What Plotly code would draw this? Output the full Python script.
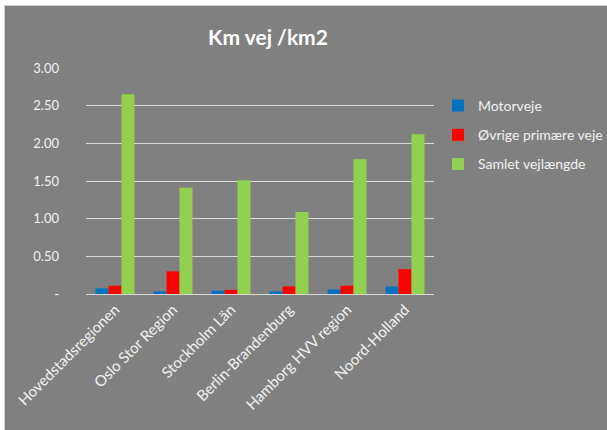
import plotly.graph_objects as go

regions = ["Hovedstadsregionen", "Oslo Stor Region", "Stockholm Län",
           "Berlin-Brandenburg", "Hamborg HVV region", "Noord-Holland"]
motorveje = [0.075, 0.035, 0.045, 0.035, 0.06, 0.10]
oevrige = [0.11, 0.30, 0.055, 0.10, 0.11, 0.33]
samlet = [2.65, 1.41, 1.51, 1.09, 1.79, 2.12]

series_names = ["Motorveje", "Øvrige primære veje", "Samlet vejlængde"]
series_colors = ["#0070c0", "#ff0000", "#92d050"]
series_values = [motorveje, oevrige, samlet]

ytick_vals = [0, 0.5, 1.0, 1.5, 2.0, 2.5, 3.0]
ytick_text = ["-", "0.50", "1.00", "1.50", "2.00", "2.50", "3.00"]

W, H = 607, 430
L, R, T, B = 86, 173, 68, 136
pw, ph = W - L - R, H - T - B

FONT = "Lato"
TXT = "#f2f2f2"
BG = "#808080"

fig = go.Figure()
for i, (name, col, vals) in enumerate(zip(series_names, series_colors, series_values)):
    fig.add_trace(go.Bar(x=regions, y=vals, name=name, marker_color=col,
                         marker_line_width=0, legendgroup=str(i)))

def px_x(p):
    return (p - L) / pw

def px_y(p):
    return (H - B - p) / ph

shapes = [
    dict(type="rect", xref="paper", yref="paper", x0=px_x(0), x1=px_x(W),
         y0=px_y(5), y1=px_y(0), fillcolor="white", line_width=0, layer="below"),
    dict(type="rect", xref="paper", yref="paper", x0=px_x(0), x1=px_x(4),
         y0=px_y(H), y1=px_y(0), fillcolor="white", line_width=0, layer="below"),
    dict(type="line", xref="paper", yref="paper", x0=px_x(4.5), x1=px_x(W),
         y0=px_y(5.5), y1=px_y(5.5), line=dict(color="#d0d0d0", width=1)),
    dict(type="line", xref="paper", yref="paper", x0=px_x(4.5), x1=px_x(4.5),
         y0=px_y(5.5), y1=px_y(H), line=dict(color="#d0d0d0", width=1)),
]

fig.update_layout(
    width=W, height=H,
    margin=dict(l=L, r=R, t=T, b=B, autoexpand=False),
    paper_bgcolor=BG, plot_bgcolor=BG,
    barmode="group", bargap=0.33, bargroupgap=0,
    font=dict(family=FONT, color=TXT, size=14),
    title=dict(text="<b>Km vej /km2</b>", x=268 / W, xref="container", xanchor="center",
               y=1 - 38 / H, yref="container", yanchor="middle",
               font=dict(family=FONT, size=21, color="white")),
    legend=dict(x=px_x(438), y=px_y(90), xanchor="left", yanchor="top",
                bgcolor="rgba(0,0,0,0)", font=dict(family=FONT, size=14, color=TXT),
                traceorder="grouped", tracegroupgap=8, itemwidth=30),
    xaxis=dict(tickangle=-45, showgrid=False, showline=True, linecolor="#d9d9d9",
               linewidth=1, ticks="", tickfont=dict(size=15, color=TXT)),
    yaxis=dict(range=[0, 3], tickvals=ytick_vals, ticktext=ytick_text,
               showgrid=True, gridcolor="#d9d9d9", gridwidth=1, zeroline=False,
               showline=False, ticks="", ticklabelstandoff=26,
               tickfont=dict(size=13, color=TXT)),
    shapes=shapes,
)

fig.write_html("out.html", config={"displayModeBar": False},
               post_script="document.body.style.margin='0';document.body.style.overflow='hidden';")
